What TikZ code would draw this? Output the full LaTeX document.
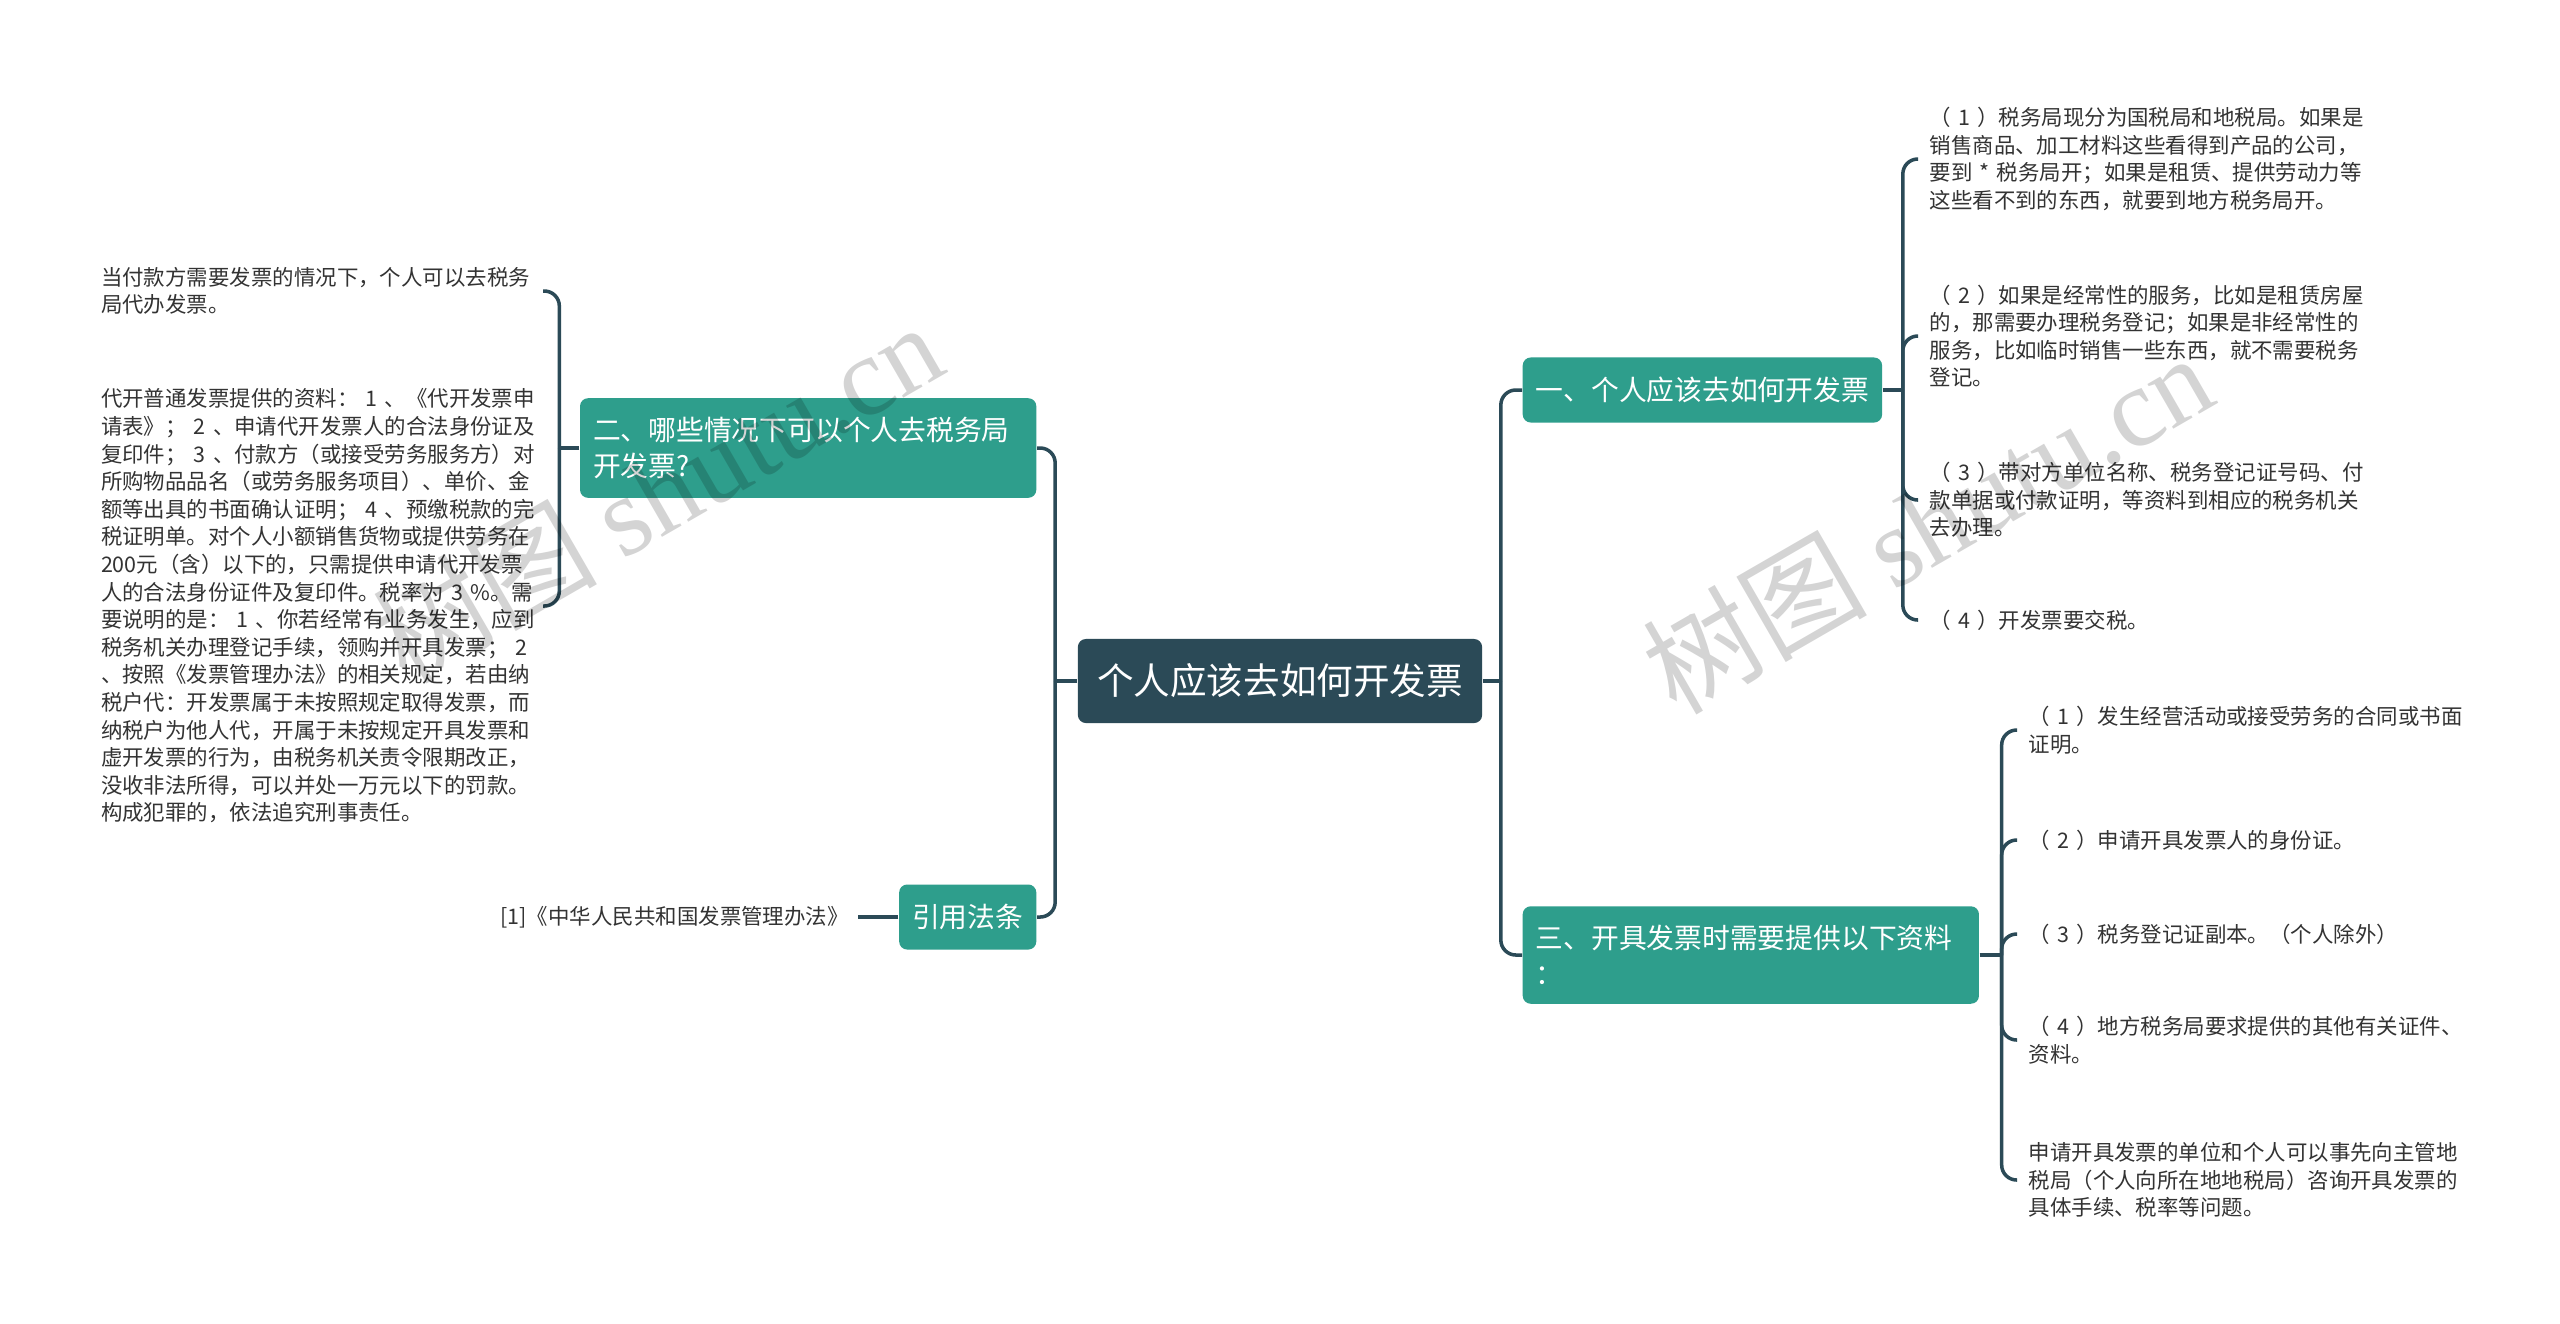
\documentclass[tikz,border=0pt]{standalone}
\usepackage{fontspec}
\setmainfont{Noto Sans CJK SC}
\newfontfamily\wmfont{Liberation Serif}
\usetikzlibrary{positioning}
\definecolor{ink}{HTML}{2B4A57}
\definecolor{sea}{HTML}{2E9E8C}
\definecolor{body}{HTML}{333333}

\begin{document}
\begin{tikzpicture}[x=0.01cm,y=-0.01cm,
 link/.style={draw=ink,line width=1pt,rounded corners=0.15cm},
 rootbox/.style={fill=ink,text=white,rounded corners=0.08cm,inner sep=0pt,minimum width=4.04cm,minimum height=0.84cm,font=\fontsize{10.4pt}{13pt}\selectfont},
 branch/.style={fill=sea,text=white,rounded corners=0.08cm,inner xsep=0.13cm,inner ysep=0.19cm,minimum height=0.65cm,font=\fontsize{7.9pt}{10.2pt}\selectfont},
 wrapbranch/.style={branch,text width=4.3cm,align=left},
 note/.style={text=body,inner xsep=0.11cm,inner ysep=0.05cm,font=\fontsize{6.1pt}{7.85pt}\selectfont},
 leaf/.style={note,text width=4.3cm,align=left},
 wmark/.style={opacity=0.17,rotate=30,font=\fontsize{32pt}{36pt}\selectfont}]
\fill[white] (0,0) rectangle (2560,1323);
\useasboundingbox (0,0) rectangle (2560,1323);

% centre and its four branches
\node[rootbox] (root) at (1280,681) {个人应该去如何开发票};
\node[branch,anchor=west] (b1) at (1522,390) {一、个人应该去如何开发票};
\node[wrapbranch,anchor=west] (b3) at (1522,955) {三、开具发票时需要提供以下资料\\：};
\node[wrapbranch,anchor=east] (b2) at (1037,448) {二、哪些情况下可以个人去税务局\\开发票?};
\node[branch,anchor=east] (cite) at (1037,917) {引用法条};
\draw[link] (root.east) -- ++(18,0) coordinate (rootR);
\draw[link] (root.west) -- ++(-22,0) coordinate (rootL);
\foreach \kid in {b1,b3} \draw[link] (rootR) |- (\kid.west);
\foreach \kid in {b2,cite} \draw[link] (rootL) |- (\kid.east);

% branch one: notes to the right
\draw[link] (b1.east) -- ++(20,0) coordinate (b1R);
\foreach \id/\yy/\txt in {
 r1/159/{（~1~）税务局现分为国税局和地税局。如果是\\销售商品、加工材料这些看得到产品的公司，\\要到~*~税务局开；如果是租赁、提供劳动力等\\这些看不到的东西，就要到地方税务局开。},
 r2/336/{（~2~）如果是经常性的服务，比如是租赁房屋\\的，那需要办理税务登记；如果是非经常性的\\服务，比如临时销售一些东西，就不需要税务\\登记。},
 r3/500/{（~3~）带对方单位名称、税务登记证号码、付\\款单据或付款证明，等资料到相应的税务机关\\去办理。},
 r4/620/{（~4~）开发票要交税。}} {
 \node[leaf,anchor=west] (\id) at (1918,\yy) {\txt};
 \draw[link] (b1R) |- (\id.west);
}

% branch three: notes to the right
\draw[link] (b3.east) -- ++(22,0) coordinate (b3R);
\foreach \id/\yy/\txt in {
 s1/730/{（~1~）发生经营活动或接受劳务的合同或书面\\证明。},
 s2/840/{（~2~）申请开具发票人的身份证。},
 s3/934/{（~3~）税务登记证副本。（个人除外）},
 s4/1040/{（~4~）地方税务局要求提供的其他有关证件、\\资料。},
 s5/1180/{申请开具发票的单位和个人可以事先向主管地\\税局（个人向所在地地税局）咨询开具发票的\\具体手续、税率等问题。}} {
 \node[leaf,anchor=west] (\id) at (2017,\yy) {\txt};
 \draw[link] (b3R) |- (\id.west);
}

% branch two: notes to the left
\draw[link] (b2.west) -- ++(-20,0) coordinate (b2L);
\foreach \id/\yy/\txt in {
 l1/291/{当付款方需要发票的情况下，个人可以去税务\\局代办发票。},
 l2/606/{代开普通发票提供的资料：~1~、《代开发票申\\请表》；~2~、申请代开发票人的合法身份证及\\复印件；~3~、付款方（或接受劳务服务方）对\\所购物品品名（或劳务服务项目）、单价、金\\额等出具的书面确认证明；~4~、预缴税款的完\\税证明单。对个人小额销售货物或提供劳务在\\200元（含）以下的，只需提供申请代开发票\\人的合法身份证件及复印件。税率为~3~\%。需\\要说明的是：~1~、你若经常有业务发生，应到\\税务机关办理登记手续，领购并开具发票；~2\\、按照《发票管理办法》的相关规定，若由纳\\税户代：开发票属于未按照规定取得发票，而\\纳税户为他人代，开属于未按规定开具发票和\\虚开发票的行为，由税务机关责令限期改正，\\没收非法所得，可以并处一万元以下的罚款。\\构成犯罪的，依法追究刑事责任。}} {
 \node[leaf,anchor=east] (\id) at (543,\yy) {\txt};
 \draw[link] (b2L) |- (\id.east);
}

% the cited law
\node[note,inner xsep=0.09cm,left=0.4cm of cite] (ref) {[1]《中华人民共和国发票管理办法》};
\draw[link] (cite.west) -- (ref.east);

% watermarks
\node[wmark] (wmL) at (657,491) {树图 {\wmfont shutu.cn}};
\node[wmark] (wmR) at (1927,522) {树图 {\wmfont shutu.cn}};
\end{tikzpicture}
\end{document}
